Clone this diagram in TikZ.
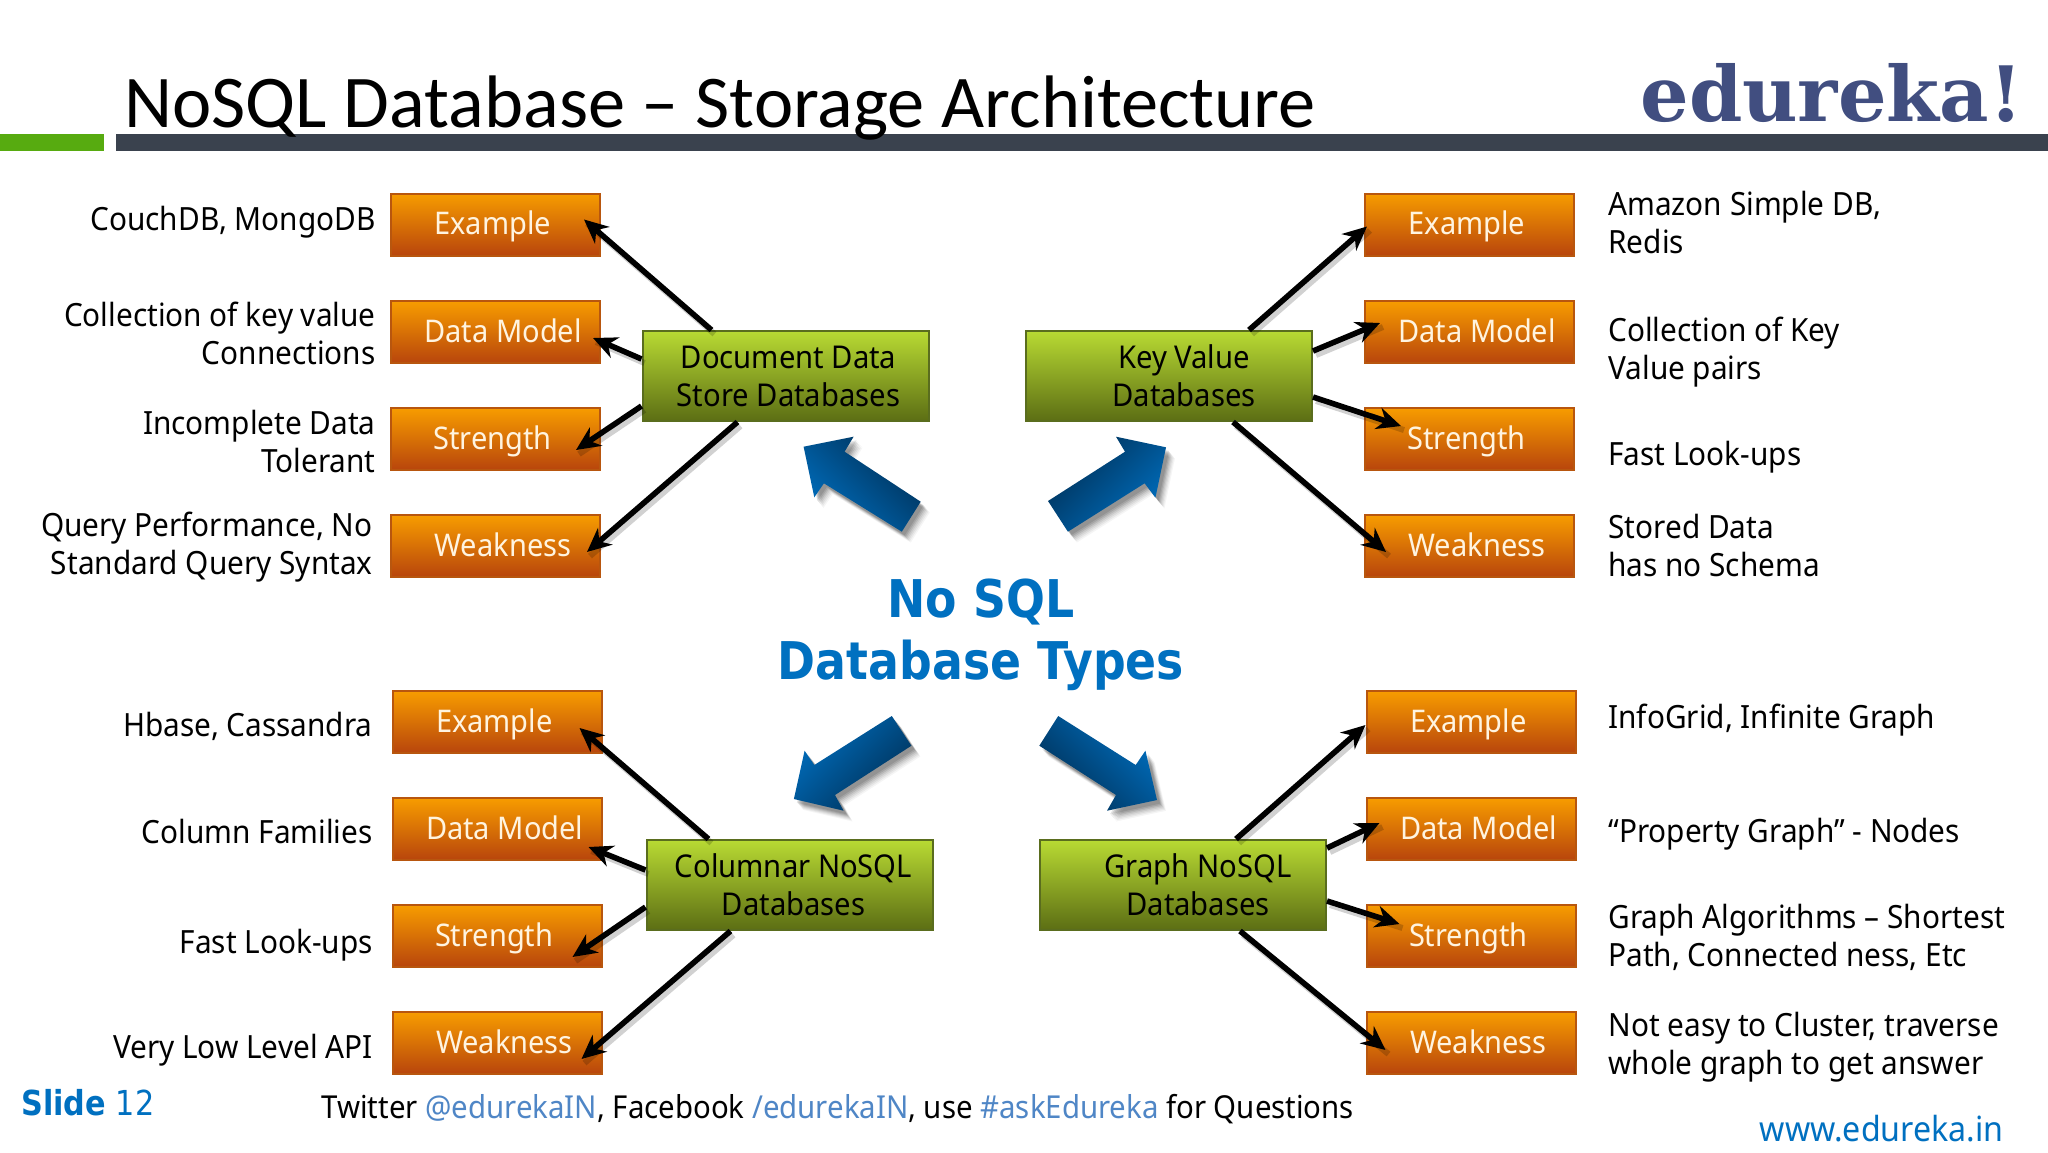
\documentclass[tikz,border=0pt]{standalone}
\usepackage{fontspec}
\setmainfont[FakeStretch=0.93]{Noto Sans}
\newfontfamily\titlefont{Carlito}
\newfontfamily\logofont{DejaVu Serif}
\newfontfamily\heavyfont[FakeStretch=0.88]{DejaVu Sans}
\usetikzlibrary{arrows.meta,calc,shadows}
\definecolor{orangetop}{HTML}{F79C00}
\definecolor{orangebot}{HTML}{B8450C}
\definecolor{orangeedge}{HTML}{B8560E}
\definecolor{greentop}{HTML}{B8DA33}
\definecolor{greenbot}{HTML}{5C6E14}
\definecolor{greenedge}{HTML}{5A6D1E}
\definecolor{bluedark}{HTML}{002F55}
\definecolor{bluemid}{HTML}{0066B0}
\definecolor{blueone}{HTML}{006EBE}
\definecolor{titleblue}{HTML}{0070C0}
\definecolor{linkblue}{HTML}{4F86C6}
\definecolor{logoblue}{HTML}{414E80}
\definecolor{barblue}{HTML}{3A424E}
\definecolor{bargreen}{HTML}{57AB10}
\definecolor{labelwhite}{HTML}{FFF4E0}
\newcommand{\btext}[2]{\makebox[104pt][l]{\hspace*{#1}#2}}
\newcommand{\bigarrow}[8]{%
  \foreach \s/\o in {9/.04,8/.05,7/.06,6/.07,5/.09,4/.10,3/.10}{
    \fill[black,opacity=\o,shift={(\s,1.2*\s)}] #1 -- #2 -- #3 -- #4 -- #5 -- #6 -- #7 -- cycle;
  }
  \shade[top color=blueone,middle color=bluemid,bottom color=bluedark,shading angle=#8] #1 -- #2 -- #3 -- #4 -- #5 -- #6 -- #7 -- cycle;
}
\tikzset{
  x=0.5pt,y=-0.5pt,
  obox/.style={draw=orangeedge,line width=1pt,top color=orangetop,bottom color=orangebot,
    minimum width=104.5pt,minimum height=31pt,inner sep=0pt,text=labelwhite,
    font=\fontsize{15.6}{17}\selectfont,text height=12pt,text depth=2pt},
  gbox/.style={draw=greenedge,line width=1pt,top color=greentop,bottom color=greenbot,
    minimum width=143pt,minimum height=45pt,inner sep=0pt,align=center,text=black,
    font=\fontsize{15.7}{19}\selectfont},
  lab/.style={inner sep=0pt,text=black,font=\fontsize{16}{19}\selectfont},
  labl/.style={lab,anchor=east,align=right},
  labr/.style={lab,anchor=west,align=left},
  conn/.style={line width=2.8pt,black,-{Stealth[length=12pt,width=11pt]},
    preaction={draw=black,opacity=.18,line width=3pt,-,transform canvas={shift={(1.5pt,-2pt)}}}},
}
\begin{document}
\begin{tikzpicture}
\useasboundingbox (0,0) rectangle (2048,1152);
\fill[white] (0,0) rectangle (2048,1152);
% top bars
\fill[bargreen] (0,134) rectangle (104,151);
\fill[barblue] (116,134) rectangle (2048,151);
\node[anchor=base west,inner sep=0pt,font=\titlefont\fontsize{37.2}{40}\selectfont] (title) at (124,127) {NoSQL Database – Storage Architecture};
\node[anchor=base west,inner sep=0pt,text=logoblue,font=\logofont\bfseries\fontsize{38.2}{40}\selectfont] (logo) at (1640,121) {edureka!};
% left top boxes
\node[obox] (ex1) at (495.5,224.5) {\btext{21.5pt}{Example}};
\node[obox] (dm1) at (495.5,332) {\btext{16.5pt}{Data Model}};
\node[obox] (st1) at (495.5,439) {\btext{21pt}{Strength}};
\node[obox] (we1) at (495.5,546) {\btext{21.5pt}{Weakness}};
% right top boxes
\node[obox] (ex2) at (1469.5,224.5) {\btext{21.5pt}{Example}};
\node[obox] (dm2) at (1469.5,332) {\btext{16.5pt}{Data Model}};
\node[obox] (st2) at (1469.5,439) {\btext{21pt}{Strength}};
\node[obox] (we2) at (1469.5,546) {\btext{21.5pt}{Weakness}};
% left bottom boxes
\node[obox] (ex3) at (497,722) {\btext{21.5pt}{Example}};
\node[obox] (dm3) at (497,829) {\btext{16.5pt}{Data Model}};
\node[obox] (st3) at (497,936) {\btext{21pt}{Strength}};
\node[obox] (we3) at (497,1043) {\btext{21.5pt}{Weakness}};
% right bottom boxes
\node[obox] (ex4) at (1471,722) {\btext{21.5pt}{Example}};
\node[obox] (dm4) at (1471,829) {\btext{16.5pt}{Data Model}};
\node[obox] (st4) at (1471,936) {\btext{21pt}{Strength}};
\node[obox] (we4) at (1471,1043) {\btext{21.5pt}{Weakness}};
% green boxes
\node[gbox] (doc) at (785.5,376) {\hspace*{3pt}Document Data\\\hspace*{3pt}Store Databases};
\node[gbox] (kv) at (1169,376) {\hspace*{15pt}Key Value\\\hspace*{15pt}Databases};
\node[gbox] (col) at (789.5,885) {\hspace*{4pt}Columnar NoSQL\\\hspace*{4pt}Databases};
\node[gbox] (gr) at (1183,885) {\hspace*{15pt}Graph NoSQL\\\hspace*{15pt}Databases};
% connectors
\draw[conn] ($(doc.north west)+(70,0)$) -- ($(ex1.south east)+(-17,-37)$);
\draw[conn] ($(doc.north west)+(0,29)$) -- ($(dm1.south east)+(-8,-26)$);
\draw[conn] ($(doc.north west)+(0,76)$) -- ($(st1.south east)+(-25,-21)$);
\draw[conn] ($(doc.south west)+(96,0)$) -- ($(we1.south east)+(-14,-26)$);
\draw[conn] ($(kv.north west)+(224,0)$) -- ($(ex2.north west)+(3,34)$);
\draw[conn] ($(kv.north east)+(0,21)$) -- ($(dm2.north west)+(16,23)$);
\draw[conn] ($(kv.north east)+(0,67)$) -- ($(st2.north west)+(37,19)$);
\draw[conn] ($(kv.south west)+(208,0)$) -- ($(we2.north west)+(22,38)$);
\draw[conn] ($(col.north west)+(63,0)$) -- ($(ex3.south east)+(-23,-26)$);
\draw[conn] ($(col.north west)+(0,31)$) -- ($(dm3.south east)+(-14,-14)$);
\draw[conn] ($(col.north west)+(0,68)$) -- ($(st3.south east)+(-30,-11)$);
\draw[conn] ($(col.south west)+(85,0)$) -- ($(we3.south east)+(-21,-16)$);
\draw[conn] ($(gr.north west)+(197,0)$) -- ($(ex4.north west)+(0,35)$);
\draw[conn] ($(gr.north east)+(0,9)$) -- ($(dm4.north west)+(14,26)$);
\draw[conn] ($(gr.north east)+(0,62)$) -- ($(st4.north west)+(34,20)$);
\draw[conn] ($(gr.south west)+(201,0)$) -- ($(we4.north west)+(20,39)$);
% big blue arrows
\bigarrow{(803.6,446.7)}{(853.6,436.7)}{(844.6,451.7)}{(920.7,501.7)}{(901.8,531.7)}{(823.9,483.3)}{(814.3,497.3)}{135}
\bigarrow{(1166,447.3)}{(1116,436.7)}{(1125,451.7)}{(1048,501)}{(1067.9,531.7)}{(1144.6,483.3)}{(1155.4,497.7)}{-135}
\bigarrow{(793.9,799)}{(843.6,810.7)}{(835,795)}{(911.4,745.7)}{(891.8,716)}{(814.3,765)}{(804.6,750.7)}{45}
\bigarrow{(1157,800)}{(1107,810.7)}{(1116,795)}{(1039.3,745.7)}{(1058.2,716)}{(1135.7,765)}{(1145.4,750.7)}{-45}
% centre
\node[inner sep=0pt,align=center,text=titleblue,font=\heavyfont\bfseries\fontsize{26}{31}\selectfont] (centre) at (981,635) {No SQL\\Database Types};
% left labels
\node[labl] (l1) at (376,222) {CouchDB, MongoDB};
\node[labl] (l2) at (376,333) {Collection of key value\\Connections};
\node[labl] (l3) at (376,441) {Incomplete Data\\Tolerant};
\node[labl] (l4) at (373,547) {Query Performance, No\\Standard Query Syntax};
\node[labl] (l5) at (373,726) {Hbase, Cassandra};
\node[labl] (l6) at (373,831) {Column Families};
\node[labl] (l7) at (373,945) {Fast Look-ups};
\node[labl] (l8) at (373,1050) {Very Low Level API};
% right labels
\node[labr] (r1) at (1608,222) {Amazon Simple DB,\\Redis};
\node[labr] (r2) at (1608,352) {Collection of Key\\Value pairs};
\node[labr] (r3) at (1608,457) {Fast Look-ups};
\node[labr] (r4) at (1608,545) {Stored Data\\has no Schema};
\node[labr] (r5) at (1608,720) {InfoGrid, Infinite Graph};
\node[labr] (r6) at (1608,834) {“Property Graph” - Nodes};
\node[labr] (r7) at (1608,937) {Graph Algorithms – Shortest\\Path, Connected ness, Etc};
\node[labr] (r8) at (1608,1047) {Not easy to Cluster, traverse\\whole graph to get answer};
% footer
\node[anchor=base west,inner sep=0pt,font=\heavyfont\fontsize{17.2}{20}\selectfont,text=titleblue] (slide) at (21,1115) {{\bfseries Slide} 12};
\node[anchor=base west,inner sep=0pt,font=\fontsize{15.8}{20}\selectfont] (foot) at (321,1118) {Twitter \textcolor{linkblue}{@edurekaIN}, Facebook \textcolor{linkblue}{/edurekaIN}, use \textcolor{linkblue}{\#askEdureka} for Questions};
\node[anchor=base east,inner sep=0pt,font=\fontsize{17.3}{20}\selectfont,text=titleblue] (web) at (2004,1141) {www.edureka.in};
\end{tikzpicture}
\end{document}
